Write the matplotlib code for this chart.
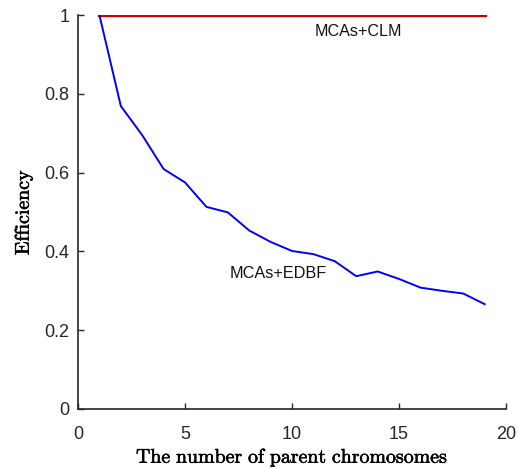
import matplotlib
matplotlib.use("Agg")
import matplotlib.pyplot as plt
import matplotlib.patheffects as pe

# parent chromosome counts
n_parents = list(range(1, 20))
# efficiency curves
eff_clm = [1.0] * 19
eff_edbf = [1.0, 0.769, 0.695, 0.609, 0.575, 0.513, 0.499, 0.453, 0.424, 0.401,
            0.393, 0.375, 0.337, 0.349, 0.330, 0.308, 0.300, 0.293, 0.266]

plt.rcParams['font.family'] = ['Liberation Sans', 'DejaVu Sans']
plt.rcParams['mathtext.fontset'] = 'cm'

fig = plt.figure(figsize=(5.18, 4.69), dpi=100)
ax = fig.add_axes([0.1506, 0.128, 0.8264, 0.840])

ax.plot(n_parents, eff_clm, color='#cc0000', lw=2.4)
ax.plot(n_parents, eff_edbf, color='#0000ff', lw=1.4)

ax.text(13.1, 0.959, 'MCAs+CLM', ha='center', va='center', fontsize=11.6, color='#111111')
ax.text(9.35, 0.345, 'MCAs+EDBF', ha='center', va='center', fontsize=11.7, color='#111111')

ax.set_xlim(0, 20)
ax.set_ylim(0, 1)
ax.set_xticks([0, 5, 10, 15, 20])
ax.set_yticks([0, 0.2, 0.4, 0.6, 0.8, 1])
ax.set_yticklabels(['0', '0.2', '0.4', '0.6', '0.8', '1'])

for s in ['top', 'right']:
    ax.spines[s].set_visible(False)
for s in ['left', 'bottom']:
    ax.spines[s].set_linewidth(1.2)
    ax.spines[s].set_color('#262626')
ax.tick_params(direction='in', length=4, width=1.0, colors='#262626', labelsize=13)
ax.tick_params(axis='x', pad=12)
ax.tick_params(axis='y', pad=6)

# slightly heavier serif labels
bold = [pe.withStroke(linewidth=0.4, foreground='black')]
xl = ax.set_xlabel(r'$\mathrm{The\ number\ of\ parent\ chromosomes}$', fontsize=14.3, labelpad=3)
yl = ax.set_ylabel(r'$\mathrm{Efficiency}$', fontsize=14.3, labelpad=7)
xl.set_path_effects(bold)
yl.set_path_effects(bold)

fig.savefig('out.png', dpi=100)
